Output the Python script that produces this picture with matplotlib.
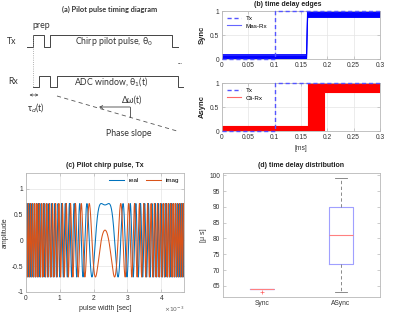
import numpy as np
import matplotlib.pyplot as plt

plt.rcParams['font.family'] = ['Liberation Sans', 'DejaVu Sans']
plt.rcParams['mathtext.fontset'] = 'dejavusans'

W, H = 400, 314

# ---- (a) timing diagram, drawn in pixel-like units ----
tx_x = [27, 33, 33, 44, 44, 50, 50, 172, 172, 178]
tx_y = [47, 47, 35, 35, 47, 47, 35, 35, 47, 47]
rx_x = [33, 39, 39, 50, 50, 57, 57, 178, 178, 183]
rx_y = [87, 87, 76, 76, 87, 87, 76, 76, 87, 87]
slope_x = [57, 177]
slope_y = [96, 131]

# ---- (b) time delay edges [ms] ----
tx_t = [0, 0.1, 0.1, 0.3]
tx_v = [0, 0, 1, 1]
sync_t = [0, 0.1605, 0.1625, 0.3]
sync_lo = [0.01, 0.01, 0.87, 0.87]
sync_hi = [0.09, 0.09, 1.0, 1.0]
async_t = [0, 0.163, 0.163, 0.193, 0.193, 0.3]
async_lo = [0.02, 0.02, 0.0, 0.0, 0.82, 0.82]
async_hi = [0.11, 0.11, 1.0, 1.0, 1.0, 1.0]

# ---- (c) chirp pulse parameters ----
pulse_len = 4.67e-3     # s
chirp_amp = 0.71
chirp_rate = 2.3e7      # rad/s^2
chirp_phase0 = 0.28     # rad

# ---- (d) delay distribution [us] ----
box_labels = ['Sync', 'ASync']
box_med = [64, 81]
box_q1 = [64, 72]
box_q3 = [64, 90]
box_lo = [64, 63]
box_hi = [64, 99]
box_out = [[63], []]


def rect(l, t, r, b):
    return [l / W, 1 - b / H, (r - l) / W, (b - t) / H]


def matlab_axes(ax):
    for s in ax.spines.values():
        s.set_color('#b8b8b8')
        s.set_linewidth(0.6)
    ax.tick_params(direction='in', length=2, width=0.5, labelsize=4.8,
                   colors='#b8b8b8', labelcolor='#303030', pad=2,
                   top=True, right=True)


fig = plt.figure(figsize=(4, 3.14), dpi=100)

# (a)
ax = fig.add_axes([0, 0, 0.5, 1])
ax.set_xlim(0, 200)
ax.set_ylim(314, 0)
ax.axis('off')
fa = dict(family=['Lato', 'DejaVu Sans'], color='#333333')
ax.text(110, 9, '(a) Pilot pulse timing diagram', ha='center', va='center',
        fontsize=5.3, fontweight='bold', **fa)
ax.plot(tx_x, tx_y, color='#444444', lw=0.7)
ax.plot(rx_x, rx_y, color='#444444', lw=0.7)
ax.plot([33, 33], [35, 87], color='#999999', lw=0.6, ls=':')
ax.plot(slope_x, slope_y, color='#555555', lw=0.6, ls=(0, (5, 4)))
ax.annotate('', xy=(29.5, 95), xytext=(38.5, 95),
            arrowprops=dict(arrowstyle='<->', lw=0.5, color='#444444',
                            mutation_scale=4, shrinkA=0, shrinkB=0))
ax.annotate('', xy=(99, 107), xytext=(130, 107),
            arrowprops=dict(arrowstyle='->', lw=0.6, color='#444444',
                            mutation_scale=5, shrinkA=0, shrinkB=0))
ax.plot([130, 130], [107, 117], color='#444444', lw=0.6)
ax.text(12, 42, 'Tx', ha='center', va='center', fontsize=6.3, **fa)
ax.text(13, 82, 'Rx', ha='center', va='center', fontsize=6.3, **fa)
ax.text(41, 26, 'prep', ha='center', va='center', fontsize=6.3, **fa)
ax.text(114, 42, r'Chirp pilot pulse, θ$_0$', ha='center', va='center',
        fontsize=6.3, **fa)
ax.text(111, 82, r'ADC window, θ$_1$(t)', ha='center', va='center',
        fontsize=6.3, **fa)
ax.text(180, 61, '...', ha='center', va='center', fontsize=5, **fa)
ax.text(36, 107, r'τ$_d$(t)', ha='center', va='center', fontsize=6.3, **fa)
ax.text(132, 100, 'Δω(t)', ha='center', va='center', fontsize=6.3, **fa)
ax.text(129, 133, 'Phase slope', ha='center', va='center', fontsize=6.3, **fa)

# (b)
fig.text(288 / W, 1 - 5 / H, '(b) time delay edges', ha='center', va='center',
         fontsize=5, fontweight='bold', color='#202020')
for top, bot, rt, lo, hi, col, lcol, name, yl in [
        (11, 59, sync_t, sync_lo, sync_hi, 'blue', '#6666ff', 'Mas-Rx',
         'Sync'),
        (83, 131, async_t, async_lo, async_hi, 'red', '#ff6666', 'Cli-Rx',
         'Async')]:
    ax = fig.add_axes(rect(222, top, 380, bot))
    ax.fill_between(rt, lo, hi, color=col, lw=0)
    ax.plot(rt, hi, color=col, lw=0.8)
    ax.plot(rt, lo, color=col, lw=0.8)
    tx_line, = ax.plot(tx_t, tx_v, color='#5555ff', lw=1.0, ls=(0, (3, 2)),
                       zorder=5, clip_on=False)
    key, = ax.plot([], [], color=lcol, lw=0.8)
    ax.legend([tx_line, key], ['Tx', name], loc='upper left',
              frameon=False, fontsize=4.5, handlelength=2.2,
              borderaxespad=0.4, labelspacing=0.3)
    ax.set_xlim(0, 0.3)
    ax.set_ylim(0, 1)
    ax.set_xticks(np.arange(0, 0.31, 0.05))
    ax.set_xticklabels(['0', '0.05', '0.1', '0.15', '0.2', '0.25', '0.3'])
    ax.set_yticks([0, 0.5, 1])
    ax.set_yticklabels(['0', '0.5', '1'])
    ax.grid(True, color='#e4e4e4', lw=0.5)
    ax.set_axisbelow(True)
    matlab_axes(ax)
    ax.set_ylabel(yl, fontsize=5.5, fontweight='bold', color='#202020',
                  labelpad=3)
ax.set_xlabel('[ms]', fontsize=4.8, color='#303030', labelpad=3)

# (c)
t = np.linspace(0, pulse_len, 8000)
phase = chirp_phase0 - chirp_rate * (t - pulse_len / 2) ** 2
ax = fig.add_axes(rect(26, 173, 184, 292))
ax.plot(t * 1e3, chirp_amp * np.cos(phase), color='#0072BD', lw=0.75,
        label='real')
ax.plot(t * 1e3, chirp_amp * np.sin(phase), color='#D95319', lw=0.75,
        label='imag')
ax.set_xlim(0, pulse_len * 1e3)
ax.set_ylim(-1, 1.3)
ax.set_yticks([-1, -0.5, 0, 0.5, 1])
ax.set_yticklabels(['-1', '-0.5', '0', '0.5', '1'])
ax.set_xticks([0, 1, 2, 3, 4])
ax.set_xticklabels(['0', '1', '2', '3', '4'])
ax.grid(True, color='#e4e4e4', lw=0.5)
ax.set_axisbelow(True)
matlab_axes(ax)
ax.legend(loc='upper right', ncol=2, frameon=False, fontsize=4.5,
          handlelength=2.4, columnspacing=1.0, borderaxespad=0.4)
ax.set_title('(c) Pilot chirp pulse, Tx', fontsize=5, fontweight='bold',
             color='#202020', pad=4)
ax.set_xlabel('pulse width [sec]', fontsize=5, color='#303030', labelpad=2)
ax.set_ylabel('amplitude', fontsize=5, color='#303030', labelpad=2)
fig.text(174 / W, 1 - 309 / H, r'$\times10^{-3}$', ha='center', va='center',
         fontsize=4.3, color='#606060')

# (d)
ax = fig.add_axes(rect(223, 173, 380, 297))
stats = []
for i in range(2):
    stats.append(dict(label=box_labels[i], med=box_med[i], q1=box_q1[i],
                      q3=box_q3[i], whislo=box_lo[i], whishi=box_hi[i],
                      fliers=box_out[i]))
ax.bxp(stats, widths=0.3, showfliers=True,
       boxprops=dict(color='#a0a0ff', lw=0.8),
       medianprops=dict(color='#ff8080', lw=0.8),
       whiskerprops=dict(color='#777777', lw=0.6, ls=(0, (4, 3))),
       capprops=dict(color='#777777', lw=0.6),
       flierprops=dict(marker='+', markeredgecolor='#ff6060', markersize=3,
                       markeredgewidth=0.5))
ax.set_xlim(0.5, 2.5)
ax.set_ylim(61.5, 100.7)
ax.set_yticks(np.arange(65, 101, 5))
matlab_axes(ax)
ax.tick_params(axis='x', length=0)
ax.set_title('(d) time delay distribution', fontsize=5, fontweight='bold',
             color='#202020', pad=4)
ax.set_ylabel('[μ s]', fontsize=5, color='#303030', labelpad=2)

fig.savefig('out.png', dpi=100)
